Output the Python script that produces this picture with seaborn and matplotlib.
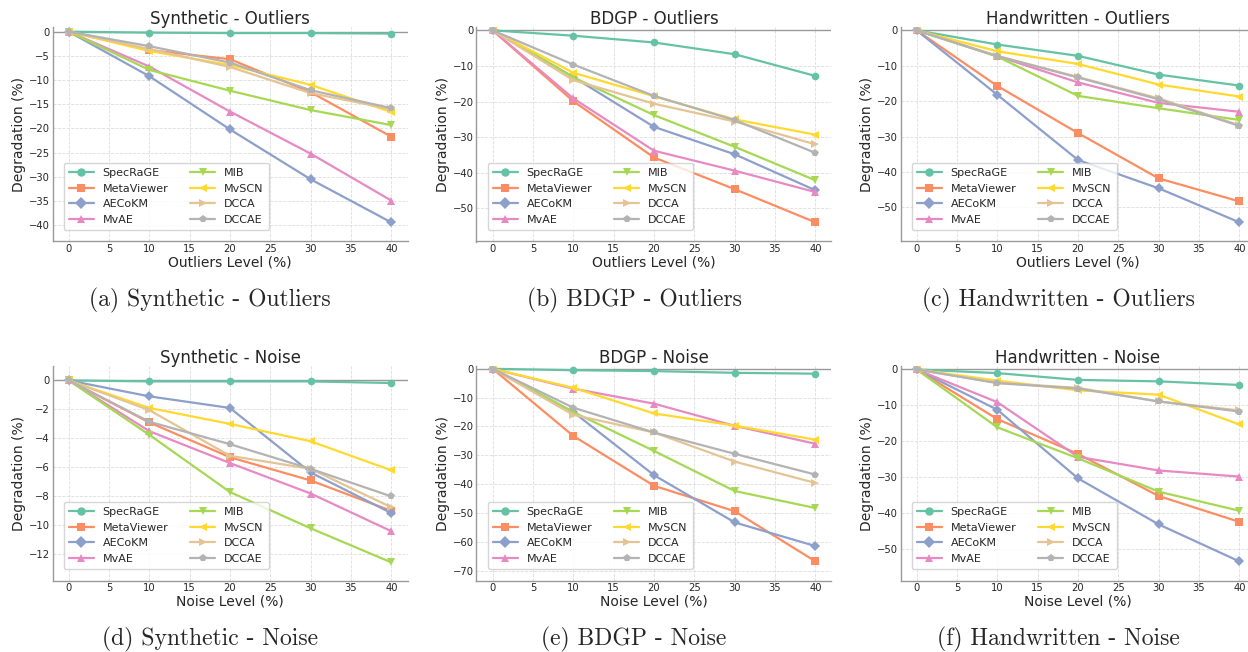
import numpy as np
import pandas as pd
import matplotlib
matplotlib.use("Agg")
import matplotlib.pyplot as plt
import seaborn as sns

levels = [0, 10, 20, 30, 40]
methods = ["SpecRaGE", "MetaViewer", "AECoKM", "MvAE", "MIB", "MvSCN", "DCCA", "DCCAE"]
marker_list = ["o", "s", "D", "^", "v", "<", ">", "p"]

# Degradation (%) per method at each corruption level
syn_outliers = {
    "SpecRaGE":   [0, -0.2, -0.3, -0.3, -0.4],
    "MetaViewer": [0, -3.8, -5.7, -12.5, -21.7],
    "AECoKM":     [0, -9.2, -20.2, -30.5, -39.4],
    "MvAE":       [0, -7.2, -16.5, -25.2, -34.9],
    "MIB":        [0, -7.9, -12.2, -16.2, -19.3],
    "MvSCN":      [0, -4.0, -6.9, -11.0, -16.6],
    "DCCA":       [0, -3.6, -7.3, -12.7, -16.0],
    "DCCAE":      [0, -3.0, -6.4, -12.1, -15.8],
}
bdgp_outliers = {
    "SpecRaGE":   [0, -1.5, -3.4, -6.7, -12.8],
    "MetaViewer": [0, -19.9, -35.7, -44.6, -53.9],
    "AECoKM":     [0, -13.1, -27.1, -34.8, -44.9],
    "MvAE":       [0, -19.1, -33.8, -39.4, -45.4],
    "MIB":        [0, -13.2, -23.8, -32.7, -42.1],
    "MvSCN":      [0, -11.9, -18.5, -25.0, -29.3],
    "DCCA":       [0, -14.0, -20.6, -25.6, -32.0],
    "DCCAE":      [0, -9.6, -18.4, -25.2, -34.4],
}
hw_outliers = {
    "SpecRaGE":   [0, -4.0, -7.2, -12.5, -15.6],
    "MetaViewer": [0, -15.7, -29.0, -41.8, -48.3],
    "AECoKM":     [0, -18.2, -36.6, -44.6, -54.2],
    "MvAE":       [0, -7.3, -14.7, -20.5, -23.0],
    "MIB":        [0, -7.4, -18.5, -22.0, -25.3],
    "MvSCN":      [0, -5.9, -9.5, -15.3, -18.7],
    "DCCA":       [0, -7.2, -13.2, -19.2, -26.8],
    "DCCAE":      [0, -7.3, -13.3, -19.5, -27.0],
}
syn_noise = {
    "SpecRaGE":   [0, -0.07, -0.07, -0.07, -0.18],
    "MetaViewer": [0, -2.9, -5.3, -6.9, -9.0],
    "AECoKM":     [0, -1.1, -1.9, -6.35, -9.15],
    "MvAE":       [0, -3.5, -5.7, -7.8, -10.4],
    "MIB":        [0, -3.75, -7.7, -10.2, -12.55],
    "MvSCN":      [0, -1.9, -3.0, -4.2, -6.2],
    "DCCA":       [0, -2.05, -5.2, -6.1, -8.75],
    "DCCAE":      [0, -2.85, -4.4, -6.1, -8.0],
}
bdgp_noise = {
    "SpecRaGE":   [0, -0.5, -0.8, -1.4, -1.7],
    "MetaViewer": [0, -23.3, -40.6, -49.4, -66.8],
    "AECoKM":     [0, -15.0, -36.9, -53.3, -61.5],
    "MvAE":       [0, -6.9, -12.1, -19.8, -26.0],
    "MIB":        [0, -15.0, -28.5, -42.4, -48.3],
    "MvSCN":      [0, -6.6, -15.5, -19.7, -24.6],
    "DCCA":       [0, -16.0, -22.1, -32.2, -39.6],
    "DCCAE":      [0, -13.5, -22.1, -29.5, -36.7],
}
hw_noise = {
    "SpecRaGE":   [0, -1.0, -2.9, -3.3, -4.3],
    "MetaViewer": [0, -13.8, -23.5, -35.2, -42.4],
    "AECoKM":     [0, -11.2, -30.3, -43.1, -53.4],
    "MvAE":       [0, -9.1, -24.3, -28.1, -29.8],
    "MIB":        [0, -16.1, -24.7, -34.0, -39.3],
    "MvSCN":      [0, -3.1, -5.8, -7.0, -15.3],
    "DCCA":       [0, -3.7, -5.1, -8.9, -11.4],
    "DCCAE":      [0, -3.8, -5.3, -8.9, -11.7],
}

panels = [
    ("Synthetic - Outliers", "Outliers Level (%)", "(a) Synthetic - Outliers", syn_outliers),
    ("BDGP - Outliers", "Outliers Level (%)", "(b) BDGP - Outliers", bdgp_outliers),
    ("Handwritten - Outliers", "Outliers Level (%)", "(c) Handwritten - Outliers", hw_outliers),
    ("Synthetic - Noise", "Noise Level (%)", "(d) Synthetic - Noise", syn_noise),
    ("BDGP - Noise", "Noise Level (%)", "(e) BDGP - Noise", bdgp_noise),
    ("Handwritten - Noise", "Noise Level (%)", "(f) Handwritten - Noise", hw_noise),
]

sns.set_theme(style="whitegrid")
plt.rcParams["font.family"] = ["DejaVu Sans"]
palette = dict(zip(methods, sns.color_palette("Set2", len(methods))))
markers = dict(zip(methods, marker_list))

W, H = 1248, 652
fig = plt.figure(figsize=(W / 100, H / 100), dpi=100)

lefts = [52.5, 476.5, 900.5]
tops = [26.8, 365.9]
ax_w, ax_h = 355, 214.7
caption_y = [300, 639]

for i, (title, xlabel, caption, data) in enumerate(panels):
    row, col = divmod(i, 3)
    l, t = lefts[col], tops[row]
    ax = fig.add_axes([l / W, (H - t - ax_h) / H, ax_w / W, ax_h / H])

    df = pd.DataFrame(
        [(m, x, v) for m in methods for x, v in zip(levels, data[m])],
        columns=["Method", "Level", "Degradation"],
    )
    sns.lineplot(
        data=df, x="Level", y="Degradation", hue="Method", style="Method",
        hue_order=methods, style_order=methods, palette=palette,
        markers=markers, dashes=False, linewidth=1.6, markersize=5.5,
        markeredgewidth=0, ax=ax,
    )
    ax.axhline(0, color="#999999", linewidth=1.0, zorder=1)
    ymin = min(min(v) for v in data.values())
    ax.set_ylim(ymin * 1.1, 1)
    ax.set_xlim(-2, 42)
    ax.set_xticks(range(0, 45, 5))
    ax.set_title(title, fontsize=12, pad=2)
    ax.set_xlabel(xlabel, fontsize=10, labelpad=1)
    ax.set_ylabel("Degradation (%)", fontsize=10, labelpad=2)
    ax.tick_params(labelsize=7.2, pad=2, length=0)
    ax.grid(True, linestyle="--", linewidth=0.6, color="#dddddd")
    for s in ("top", "right"):
        ax.spines[s].set_visible(False)
    for s in ("left", "bottom"):
        ax.spines[s].set_color("#999999")
        ax.spines[s].set_linewidth(1.0)
    ax.legend(loc="lower left", ncol=2, fontsize=8, frameon=True,
              handlelength=2.2, columnspacing=2.0, borderpad=0.5,
              labelspacing=0.5, borderaxespad=1.0, markerscale=1.1)

    cx = l + ax_w / 2 - 20
    fig.text(cx / W, 1 - caption_y[row] / H, caption, ha="center", va="center",
             fontsize=17, family="cmr10")

fig.savefig("out.png", dpi=100)
